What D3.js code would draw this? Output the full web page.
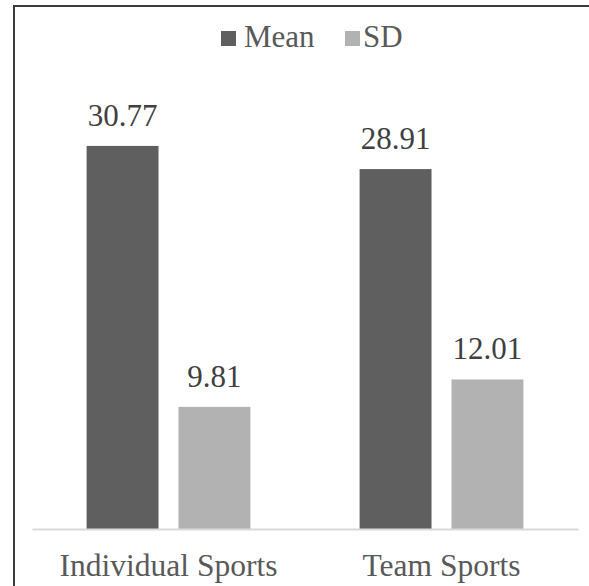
<!DOCTYPE html>
<html>
<head>
<meta charset="utf-8">
<script src="https://cdn.jsdelivr.net/npm/d3@7"></script>
<style>
  html, body { margin: 0; padding: 0; background: #ffffff; }
  svg { display: block; }
</style>
</head>
<body>
<svg id="chart" width="589" height="586"></svg>
<script>
const categories = ["Individual Sports", "Team Sports"];
const seriesNames = ["Mean", "SD"];
const meanValues = [30.77, 28.91];
const sdValues = [9.81, 12.01];
const seriesColors = ["#5f5f5f", "#b2b2b2"];

const FONT = "'Liberation Serif', 'Times New Roman', Tinos, 'DejaVu Serif', 'Noto Serif', serif";

const seriesValues = [meanValues, sdValues];
const rows = categories.map((c, i) => ({
  category: c,
  values: seriesNames.map((s, j) => ({ series: s, value: seriesValues[j][i], color: seriesColors[j] }))
}));

const svg = d3.select("#chart");
const W = 589, H = 586;
svg.append("rect").attr("width", W).attr("height", H).attr("fill", "#ffffff");

// outer frame (only top and left visible)
svg.append("path")
  .attr("d", "M14,600 L14,6 L600,6")
  .attr("fill", "none")
  .attr("stroke", "#3c3c3c")
  .attr("stroke-width", 2);

const plotLeft = 32, plotRight = 578, baseY = 529;
const x0 = d3.scaleBand().domain(categories).range([plotLeft, plotRight]).padding(0);
const x1 = d3.scaleBand().domain(seriesNames)
  .range([x0.bandwidth() * 0.2, x0.bandwidth() * 0.8])
  .paddingInner(0.2174);
const y = d3.scaleLinear().domain([0, 35]).range([baseY, baseY - 35 * 12.45]);

const groups = svg.append("g").selectAll("g").data(rows).join("g")
  .attr("transform", d => `translate(${x0(d.category)},0)`);

groups.selectAll("rect").data(d => d.values).join("rect")
  .attr("x", d => x1(d.series))
  .attr("y", d => y(d.value))
  .attr("width", x1.bandwidth())
  .attr("height", d => y(0) - y(d.value))
  .attr("fill", d => d.color);

groups.selectAll("text.val").data(d => d.values).join("text")
  .attr("class", "val")
  .attr("x", d => x1(d.series) + x1.bandwidth() / 2)
  .attr("y", d => y(d.value) - 20)
  .attr("text-anchor", "middle")
  .style("font-family", FONT)
  .style("font-size", "31px")
  .attr("fill", "#404040")
  .text(d => d.value.toFixed(2));

// category axis
const xAxis = d3.axisBottom(x0).tickSize(0).tickPadding(0);
const ax = svg.append("g").attr("transform", `translate(0,${baseY})`).call(xAxis);
ax.attr("font-family", null).attr("font-size", null);
ax.select(".domain").attr("stroke", "#d9d9d9").attr("stroke-width", 2);
ax.selectAll(".tick text")
  .attr("y", 47)
  .attr("dy", 0)
  .style("font-family", FONT)
  .style("font-size", "31.5px")
  .attr("fill", "#595959");

// legend
const legendItems = [
  { name: seriesNames[0], color: seriesColors[0], sx: 221, tx: 244 },
  { name: seriesNames[1], color: seriesColors[1], sx: 345, tx: 363 }
];
const lg = svg.append("g");
lg.selectAll("rect").data(legendItems).join("rect")
  .attr("x", d => d.sx).attr("y", 31).attr("width", 15).attr("height", 15)
  .attr("fill", d => d.color);
lg.selectAll("text").data(legendItems).join("text")
  .attr("x", d => d.tx).attr("y", 47)
  .style("font-family", FONT)
  .style("font-size", "31px")
  .attr("fill", "#595959")
  .text(d => d.name);
</script>
</body>
</html>
